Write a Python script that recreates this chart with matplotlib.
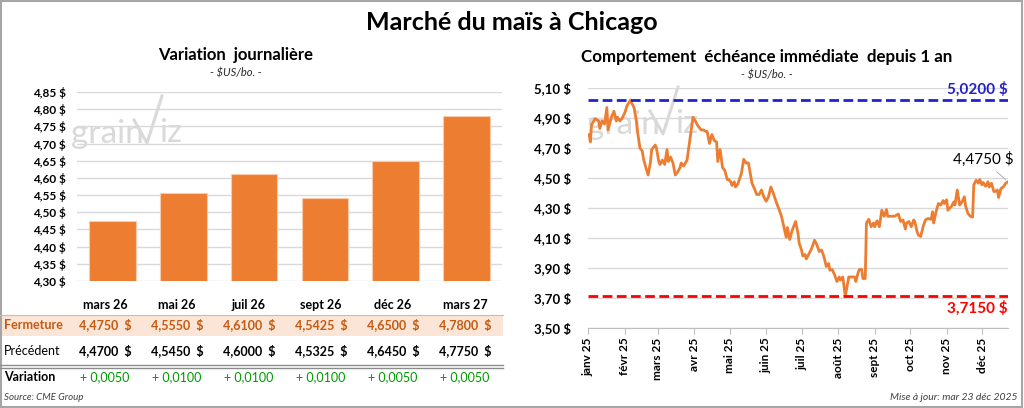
import numpy as np
import pandas as pd
import matplotlib
matplotlib.use('Agg')
import matplotlib.pyplot as plt
from matplotlib.patches import Rectangle
from matplotlib.lines import Line2D

plt.rcParams['font.family'] = ['Lato', 'DejaVu Sans']

# --- donnees : contrats (variation journaliere)
mois = ['mars 26', 'mai 26', 'juil 26', 'sept 26', 'déc 26', 'mars 27']
fermeture = [4.4750, 4.5550, 4.6100, 4.5425, 4.6500, 4.7800]
precedent = [4.4700, 4.5450, 4.6000, 4.5325, 4.6450, 4.7750]

# --- donnees : echeance immediate depuis 1 an (jours depuis le 1er janv 2025)
jours = [1, 2, 3, 6, 9, 10, 12, 14, 16, 17,
         20, 22, 24, 25, 27, 29, 31, 33, 36, 37,
         39, 41, 42, 44, 46, 47, 49, 51, 53, 54,
         57, 58, 60, 61, 63, 65, 67, 68, 70, 72,
         74, 76, 78, 79, 81, 84, 85, 87, 89, 91,
         93, 96, 98, 100, 101, 103, 105, 107, 109, 110,
         112, 114, 116, 118, 119, 121, 122, 124, 125, 127,
         130, 132, 134, 136, 139, 141, 143, 145, 147, 149,
         151, 153, 155, 157, 160, 162, 164, 166, 168, 169,
         171, 173, 175, 176, 178, 179, 181, 182, 184, 185,
         187, 189, 190, 192, 194, 196, 198, 200, 202, 204,
         205, 207, 209, 211, 213, 214, 216, 218, 219, 221,
         223, 226, 227, 229, 230, 232, 233, 235, 236, 238,
         240, 242, 243, 245, 247, 249, 251, 253, 254, 257,
         260, 263, 265, 267, 269, 270, 272, 274, 276, 277,
         279, 280, 282, 284, 286, 288, 291, 292, 293, 295,
         297, 299, 301, 302, 304, 305, 308, 310, 311, 313,
         315, 317, 319, 320, 322, 324, 326, 327, 329, 331,
         332, 334, 335, 337, 339, 340, 342, 344, 345, 347,
         348, 350, 352, 354, 356]
prix = [4.79, 4.74, 4.855, 4.895, 4.88, 4.83, 4.88, 4.86, 4.97, 4.82,
        4.91, 4.945, 4.88, 4.905, 4.88, 4.90, 4.93, 4.98, 5.02, 5.00,
        4.97, 4.88, 4.81, 4.70, 4.68, 4.63, 4.57, 4.52, 4.61, 4.69,
        4.72, 4.70, 4.61, 4.59, 4.62, 4.59, 4.69, 4.61, 4.64, 4.60,
        4.52, 4.54, 4.57, 4.60, 4.58, 4.62, 4.68, 4.79, 4.905, 4.88,
        4.85, 4.82, 4.82, 4.81, 4.81, 4.73, 4.79, 4.75, 4.74, 4.61,
        4.69, 4.57, 4.55, 4.49, 4.49, 4.475, 4.45, 4.475, 4.44, 4.46,
        4.53, 4.625, 4.60, 4.60, 4.465, 4.43, 4.39, 4.39, 4.42, 4.375,
        4.345, 4.375, 4.44, 4.40, 4.33, 4.29, 4.245, 4.175, 4.105, 4.17,
        4.09, 4.15, 4.19, 4.21, 4.13, 4.065, 4.02, 3.98, 3.99, 3.96,
        3.99, 4.02, 4.04, 4.085, 4.055, 4.01, 4.02, 3.975, 3.91, 3.93,
        3.885, 3.89, 3.855, 3.81, 3.84, 3.82, 3.84, 3.715, 3.75, 3.84,
        3.84, 3.84, 3.81, 3.87, 3.89, 3.89, 3.83, 3.83, 4.20, 4.225,
        4.175, 4.20, 4.175, 4.215, 4.175, 4.285, 4.245, 4.29, 4.245, 4.245,
        4.245, 4.26, 4.21, 4.22, 4.16, 4.20, 4.21, 4.175, 4.22, 4.21,
        4.14, 4.12, 4.11, 4.175, 4.22, 4.23, 4.225, 4.275, 4.20, 4.275,
        4.33, 4.32, 4.35, 4.33, 4.355, 4.285, 4.31, 4.34, 4.32, 4.42,
        4.32, 4.34, 4.375, 4.315, 4.265, 4.245, 4.24, 4.455, 4.485, 4.465,
        4.49, 4.455, 4.47, 4.445, 4.475, 4.44, 4.465, 4.41, 4.41, 4.42,
        4.37, 4.43, 4.44, 4.465, 4.475]
mois_axe = ['janv 25', 'févr 25', 'mars 25', 'avr 25', 'mai 25', 'juin 25',
            'juil 25', 'août 25', 'sept 25', 'oct 25', 'nov 25', 'déc 25']
haut_52 = 5.0200
bas_52 = 3.7150

ORANGE = '#ED7D31'
GRIS_GRILLE = '#D9D9D9'

W, H = 1024, 408
def fx(x):
    return x / W
def fy(y):
    return 1 - y / H

def virgule(v, n):
    return f"{v:.{n}f}".replace('.', ',')

fig = plt.figure(figsize=(10.24, 4.08), dpi=100)
fig.patches.append(Rectangle((0.001, 0.002), 0.997, 0.995, transform=fig.transFigure,
                             fill=False, edgecolor='#A6A6A6', lw=1.5))

fig.text(fx(512), fy(22), "Marché du maïs à Chicago", ha='center', va='center',
         fontsize=18, fontweight='bold')

#logo grainviz (filigrane)
def logo(x0, ym):
    c = '#D9D9D9'
    fig.text(fx(x0), fy(ym), "grain", ha='left', va='center', fontsize=24,
             color=c, zorder=-1)
    fig.lines.append(Line2D([fx(x0 + 63), fx(x0 + 76), fx(x0 + 91)],
                            [fy(ym - 14), fy(ym + 9), fy(ym - 38)],
                            transform=fig.transFigure, color=c, lw=2.2, zorder=-1))
    fig.text(fx(x0 + 88), fy(ym - 1), "iz", ha='left', va='center', fontsize=24,
             color=c, zorder=-1)

logo(71, 134)
logo(587, 125)

# ---------------- panneau gauche
fig.text(fx(236), fy(55), "Variation  journalière", ha='center', va='center',
         fontsize=12, fontweight='bold')
fig.text(fx(236), fy(73), "- $US/bo. -", ha='center', va='center',
         fontsize=8, style='italic', color='#262626')

ax1 = fig.add_axes([fx(77), fy(281), (502 - 77) / W, (281 - 92) / H])
ax1.set_facecolor('none')
ax1.bar(range(len(mois)), fermeture, width=0.66, color=ORANGE, edgecolor='#F8CBAD',
        linewidth=0.8, zorder=3)
ax1.set_xlim(-0.5, len(mois) - 0.5)
ax1.set_ylim(4.30, 4.85)
yt = np.arange(4.30, 4.851, 0.05)
ax1.set_yticks(yt)
ax1.set_yticklabels([virgule(v, 2) + " $" for v in yt], fontsize=8.5, fontweight='bold')
ax1.set_xticks([])
ax1.grid(axis='y', color=GRIS_GRILLE, lw=1, zorder=0)
for s in ax1.spines.values():
    s.set_visible(False)
ax1.tick_params(axis='y', length=0, pad=8)

# tableau
col_x = [105 + 72 * i for i in range(len(mois))]
for i, m in enumerate(mois):
    fig.text(fx(col_x[i]), fy(305), m, ha='center', va='center', fontsize=9,
             fontweight='bold')

fig.patches.append(Rectangle((fx(0), fy(336)), fx(503), (336 - 315) / H,
                             transform=fig.transFigure, facecolor='#FBE5D6',
                             edgecolor='none', zorder=0))
fig.lines.append(Line2D([fx(0), fx(503)], [fy(315), fy(315)], transform=fig.transFigure,
                        color='#D9B8A0', lw=0.8))
fig.lines.append(Line2D([fx(0), fx(503)], [fy(365), fy(365)], transform=fig.transFigure,
                        color='#8C8C8C', lw=1))
fig.lines.append(Line2D([fx(0), fx(503)], [fy(367.5), fy(367.5)], transform=fig.transFigure,
                        color='#8C8C8C', lw=1))

fig.text(fx(4), fy(325), "Fermeture", ha='left', va='center', fontsize=9,
         fontweight='bold', color='#C55A11')
fig.text(fx(4), fy(351), "Précédent", ha='left', va='center', fontsize=9)
fig.text(fx(4), fy(377), "Variation", ha='left', va='center', fontsize=9,
         fontweight='bold')
for i in range(len(mois)):
    fig.text(fx(col_x[i]), fy(325), virgule(fermeture[i], 4) + "  $", ha='center',
             va='center', fontsize=9, fontweight='bold', color='#C55A11')
    fig.text(fx(col_x[i]), fy(351), virgule(precedent[i], 4) + "  $", ha='center',
             va='center', fontsize=9, fontweight='bold')
    var = fermeture[i] - precedent[i]
    signe = "+ " if var >= 0 else "- "
    fig.text(fx(col_x[i]), fy(377), signe + virgule(abs(var), 4), ha='center',
             va='center', fontsize=9, color='#009A00')

fig.text(fx(4), fy(398), "Source: CME Group", ha='left', va='center', fontsize=7,
         style='italic', color='#404040')

# ---------------- panneau droit
fig.text(fx(767), fy(57), "Comportement  échéance immédiate  depuis 1 an", ha='center',
         va='center', fontsize=12.2, fontweight='bold')
fig.text(fx(767), fy(75), "- $US/bo. -", ha='center', va='center',
         fontsize=8, style='italic', color='#262626')

dates = pd.Timestamp('2025-01-01') + pd.to_timedelta(jours, unit='D')
ax2 = fig.add_axes([fx(588), fy(328), (1008 - 588) / W, (328 - 88) / H])
ax2.set_facecolor('none')
ax2.plot(dates, prix, color=ORANGE, lw=2, zorder=3)
x0, x1 = pd.Timestamp('2025-01-01'), pd.Timestamp('2025-12-23')
ax2.set_xlim(x0, x1)
ax2.set_ylim(3.50, 5.10)
yt2 = np.arange(3.50, 5.101, 0.20)
ax2.set_yticks(yt2)
ax2.set_yticklabels([virgule(v, 2) + " $" for v in yt2], fontsize=9.5, fontweight='bold')
ax2.grid(axis='y', color=GRIS_GRILLE, lw=1, zorder=0)
ticks = pd.date_range('2025-01-01', periods=len(mois_axe), freq='MS')
ax2.set_xticks(ticks)
ax2.set_xticklabels(mois_axe, rotation=90, fontsize=8.5, fontweight='bold')
for s in ['top', 'right', 'left']:
    ax2.spines[s].set_visible(False)
ax2.spines['bottom'].set_color('#BFBFBF')
ax2.tick_params(axis='y', length=0, pad=12)
ax2.tick_params(axis='x', length=4, color='#BFBFBF', pad=3)

l1 = ax2.axhline(haut_52, color='#2222CC', lw=2, zorder=4)
l1.set_dashes([3.5, 1.6])
l2 = ax2.axhline(bas_52, color='#FF0000', lw=2, zorder=4)
l2.set_dashes([3.5, 1.6])
ax2.text(x1, haut_52 + 0.02, virgule(haut_52, 4) + " $", ha='right', va='bottom',
         fontsize=11, fontweight='bold', color='#2222CC')
ax2.text(x1, bas_52 - 0.03, virgule(bas_52, 4) + " $", ha='right', va='top',
         fontsize=11, fontweight='bold', color='#FF0000')
ax2.annotate(virgule(prix[-1], 4) + " $", xy=(dates[-1], prix[-1]), xytext=(-18, 16),
             textcoords='offset points', ha='center', va='center', fontsize=11,
             arrowprops=dict(arrowstyle='-', color='#A6A6A6', lw=0.6), zorder=5)

fig.text(fx(1018), fy(398), "Mise à jour: mar 23 déc 2025", ha='right', va='center',
         fontsize=7.5, style='italic', color='#404040')

fig.savefig('out.png', dpi=100)
